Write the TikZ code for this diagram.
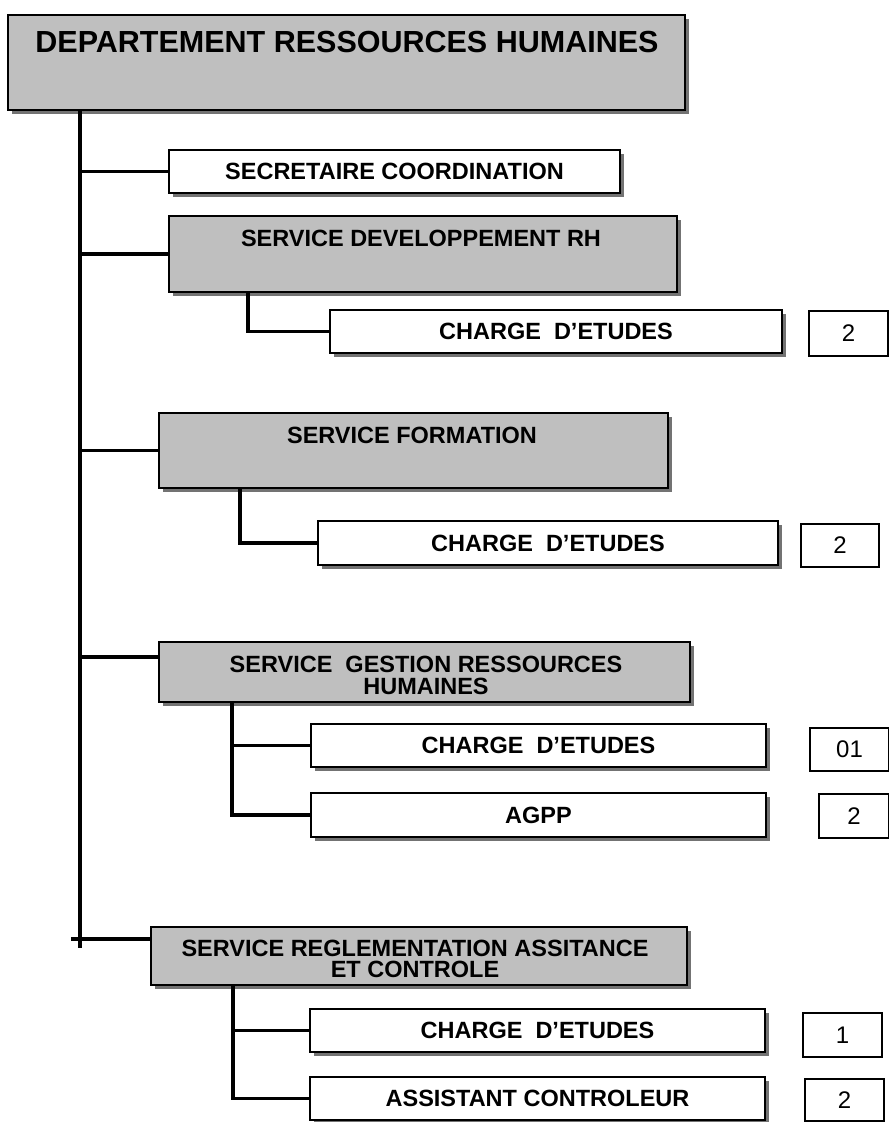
\documentclass[tikz,border=0pt]{standalone}
\usepackage{fontspec}
\setmainfont{Liberation Sans}
\usetikzlibrary{shadows}
\begin{document}
\begin{tikzpicture}[x=1pt,y=-1pt,
  box/.style={draw=black, line width=2.2pt, inner sep=0pt, outer sep=0pt,
    anchor=north west,
    drop shadow={shadow xshift=3.5pt, shadow yshift=-4pt, fill=black!55, opacity=1}},
  greybox/.style={box, fill=black!25},
  whitebox/.style={box, fill=white, font=\bfseries\fontsize{23.5}{26}\selectfont},
  countbox/.style={draw=black, line width=2pt, fill=white, inner sep=0pt,
    anchor=north west, font=\fontsize{24}{24}\selectfont},
  lbl/.style={font=\bfseries\fontsize{23.5}{21.5}\selectfont, align=center, inner sep=0pt},
  link/.style={line width=3.4pt}
]
\useasboundingbox (0,0) rectangle (889,1122);

% department head
\node[greybox, minimum width=677pt, minimum height=95pt] (top) at (8,15) {};
\node[font=\bfseries\fontsize{30.5}{33}\selectfont, inner sep=0pt] (top-t) at (347,42) {DEPARTEMENT RESSOURCES HUMAINES};

% first level
\node[whitebox, minimum width=451pt, minimum height=43pt] (sec) at (169,150) {SECRETAIRE COORDINATION};

\node[greybox, minimum width=508pt, minimum height=76pt] (sdrh) at (169,216) {};
\node[lbl] (sdrh-t) at (421,238) {SERVICE DEVELOPPEMENT RH};

\node[greybox, minimum width=509pt, minimum height=75pt] (sf) at (159,413) {};
\node[lbl] (sf-t) at (412,435) {SERVICE FORMATION};

\node[greybox, minimum width=531pt, minimum height=60pt] (sgrh) at (159,642) {};
\node[lbl] (sgrh-t) at (426,675.5) {SERVICE\ \ GESTION RESSOURCES\\HUMAINES};

\node[greybox, minimum width=536pt, minimum height=58pt] (srac) at (151,927) {};
\node[lbl] (srac-t) at (415,959) {SERVICE REGLEMENTATION ASSITANCE\\ET CONTROLE};

% second level
\node[whitebox, minimum width=452pt, minimum height=43pt] (chA) at (330,310) {CHARGE\ \ D’ETUDES};
\node[countbox, minimum width=79pt, minimum height=45pt] (nA) at (808,310) {2};

\node[whitebox, minimum width=460pt, minimum height=44pt] (chB) at (318,521) {CHARGE\ \ D’ETUDES};
\node[countbox, minimum width=78pt, minimum height=43pt] (nB) at (800,523) {2};

\node[whitebox, minimum width=455pt, minimum height=43pt] (chC) at (311,724) {CHARGE\ \ D’ETUDES};
\node[countbox, minimum width=79pt, minimum height=43pt] (nC) at (809,727) {01};

\node[whitebox, minimum width=455pt, minimum height=44pt] (agpp) at (311,793) {AGPP};
\node[countbox, minimum width=70pt, minimum height=44pt] (nD) at (818,793) {2};

\node[whitebox, minimum width=455pt, minimum height=43pt] (chD) at (310,1009) {CHARGE\ \ D’ETUDES};
\node[countbox, minimum width=79pt, minimum height=44pt] (nE) at (802,1012) {1};

\node[whitebox, minimum width=455pt, minimum height=43pt] (ast) at (310,1077) {ASSISTANT CONTROLEUR};
\node[countbox, minimum width=79pt, minimum height=42pt] (nF) at (804,1078) {2};

% trunk and its branches
\coordinate (trunk) at (80,948);
\coordinate (sgrh-in) at (159,657);
\coordinate (srac-in) at (151,939);
\coordinate (tick) at (71,939);
\draw[link] (trunk |- top.south) -- (trunk);
\draw[link] (trunk |- sec.west) -- (sec.west);
\draw[link] (trunk |- sdrh.west) -- (sdrh.west);
\draw[link] (trunk |- sf.west) -- (sf.west);
\draw[link] (trunk |- sgrh-in) -- (sgrh-in);
\draw[link] (tick) -- (srac-in);

% service sub-branches
\coordinate (jA) at (248,0);
\coordinate (jB) at (240,0);
\coordinate (jC) at (232,0);
\coordinate (jD) at (233,0);
\draw[link] (jA |- sdrh.south) |- (chA.west);
\draw[link] (jB |- sf.south) |- (chB.west);
\draw[link] (jC |- sgrh.south) |- (agpp.west);
\draw[link] (jC |- chC.west) -- (chC.west);
\draw[link] (jD |- srac.south) |- (ast.west);
\draw[link] (jD |- chD.west) -- (chD.west);
\end{tikzpicture}
\end{document}
